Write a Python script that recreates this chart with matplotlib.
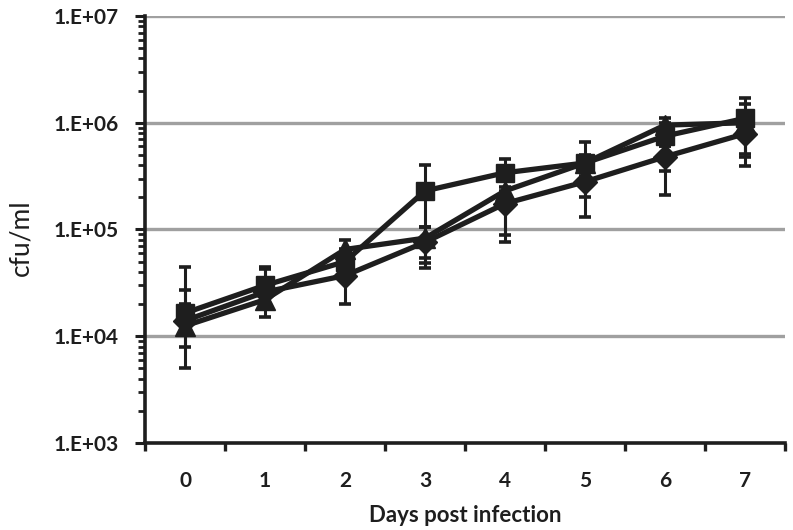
import matplotlib
matplotlib.use("Agg")
import matplotlib.pyplot as plt
import numpy as np
from matplotlib.ticker import FixedLocator, FuncFormatter, LogLocator, NullFormatter

days = [0, 1, 2, 3, 4, 5, 6, 7]

diamond_vals = [1.4e4, 2.6e4, 3.7e4, 7.6e4, 1.75e5, 2.8e5, 4.8e5, 7.9e5]
diamond_hi = [2.7e4, 3.5e4, 5.0e4, 1.05e5, 2.3e5, 3.6e5, 6.0e5, 9.5e5]
diamond_lo = [5.0e3, 1.5e4, 2.0e4, 4.4e4, 7.6e4, 1.3e5, 2.1e5, 3.9e5]

triangle_vals = [1.25e4, 2.2e4, 6.5e4, 8.3e4, 2.3e5, 4.2e5, 9.5e5, 1.0e6]
triangle_hi = [2.0e4, 4.3e4, 7.9e4, 1.05e5, 3.0e5, 5.0e5, 1.1e6, 1.5e6]
triangle_lo = [8.0e3, 1.8e4, 5.0e4, 4.9e4, 8.8e4, 2.0e5, 3.5e5, 4.8e5]

square_vals = [1.65e4, 3.0e4, 5.0e4, 2.3e5, 3.4e5, 4.2e5, 7.5e5, 1.1e6]
square_hi = [4.5e4, 4.5e4, 6.5e4, 4.0e5, 4.6e5, 6.6e5, 1.0e6, 1.7e6]
square_lo = [1.3e4, 2.5e4, 4.0e4, 5.4e4, 2.5e5, 3.2e5, 6.0e5, 5.1e5]

ytick_vals = [1e3, 1e4, 1e5, 1e6, 1e7]
ytick_labels = ["1.E+03", "1.E+04", "1.E+05", "1.E+06", "1.E+07"]

plt.rcParams['font.family'] = ['Lato', 'DejaVu Sans']

fig = plt.figure(figsize=(7.93, 5.30), dpi=100)
ax = fig.add_axes([0.1829, 0.1642, 0.9899 - 0.1829, 0.9698 - 0.1642])

col = "#1e1e1e"
series = [
    (diamond_vals, diamond_lo, diamond_hi, "D", 12),
    (triangle_vals, triangle_lo, triangle_hi, "^", 15),
    (square_vals, square_lo, square_hi, "s", 13),
]
for vals, lo, hi, mk, ms in series:
    v = np.array(vals); l = np.array(lo); h = np.array(hi)
    yerr = np.vstack([v - l, h - v])
    ax.errorbar(days, v, yerr=yerr, fmt="none", ecolor=col, elinewidth=2.2,
                capsize=4.5, capthick=2.6, zorder=3)
    ax.plot(days, v, color=col, lw=3.8, marker=mk, markersize=ms,
            markerfacecolor=col, markeredgecolor=col, zorder=4)

ax.set_yscale("log")
ax.set_ylim(1e3, 1e7)
ax.set_xlim(-0.5, 7.5)

for y in ytick_vals[1:]:
    ax.axhline(y, color="#a0a0a0", lw=2.4, zorder=1)

ax.yaxis.set_major_locator(FixedLocator(ytick_vals))
ax.yaxis.set_major_formatter(FuncFormatter(lambda v, p: ytick_labels[ytick_vals.index(v)] if v in ytick_vals else ""))
ax.yaxis.set_minor_locator(LogLocator(base=10, subs=np.arange(2, 10)))
ax.yaxis.set_minor_formatter(NullFormatter())
ax.tick_params(axis="y", which="major", direction="out", length=7, width=2.2,
               pad=12, labelsize=15, colors="#1e1e1e")
ax.tick_params(axis="y", which="minor", direction="out", length=5, width=2.0, colors="#1e1e1e")
for lab in ax.get_yticklabels():
    lab.set_fontweight("bold")

ax.set_xticks(days)
ax.set_xticklabels([str(d) for d in days], fontweight="bold")
ax.set_xticks(np.arange(-0.5, 8.0, 1.0), minor=True)
ax.tick_params(axis="x", which="major", length=0, pad=20, labelsize=15, colors="#1e1e1e")
ax.tick_params(axis="x", which="minor", direction="out", length=6, width=2.4, colors="#1e1e1e")

for s in ["top", "right"]:
    ax.spines[s].set_visible(False)
for s in ["left", "bottom"]:
    ax.spines[s].set_linewidth(2.6)
    ax.spines[s].set_color("#1e1e1e")

ax.set_ylabel("cfu/ml", fontsize=19, color="#1e1e1e")
ax.yaxis.set_label_coords(-0.175, 0.48)
ax.set_xlabel("Days post infection", fontsize=16, fontweight="bold", color="#1e1e1e", labelpad=10)

fig.savefig("out.png", dpi=100)
